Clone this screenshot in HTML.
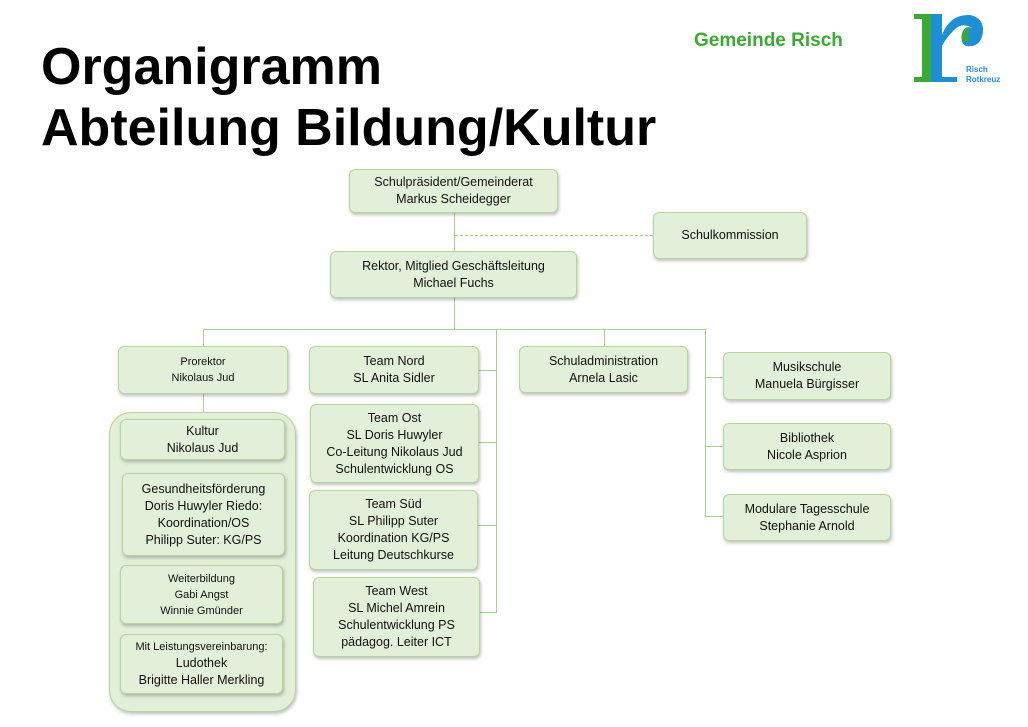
<!DOCTYPE html>
<html><head><meta charset="utf-8"><style>
body{margin:0;width:1028px;height:727px;background:#fff;position:relative;overflow:hidden;font-family:"Liberation Sans",sans-serif}
.t{position:absolute;left:41px;font-weight:bold;font-size:52px;color:#000;line-height:56px}
.b{position:absolute;box-sizing:border-box;background:#e2efd9;border:1px solid #b3d69a;border-radius:6px;box-shadow:1px 2px 3px rgba(0,0,0,.25);display:flex;flex-direction:column;justify-content:center;align-items:center;text-align:center;font-size:12.5px;line-height:17px;color:#111}
.s{font-size:11px;line-height:16px}
.h{position:absolute;height:1px;background:#a9d18e}
.v{position:absolute;width:1px;background:#a9d18e}
</style></head><body>
<div class="t" style="top:39px">Organigramm</div>
<div class="t" style="top:100px">Abteilung Bildung/Kultur</div>
<div style="position:absolute;left:694px;top:30px;font-size:19px;font-weight:bold;color:#3aaa35">Gemeinde Risch</div>
<svg style="position:absolute;left:910px;top:10px" width="110" height="75">
<rect x="4" y="4" width="24" height="5" fill="#3aaa35"/>
<rect x="12" y="4" width="11" height="68" fill="#3aaa35"/>
<rect x="4" y="67" width="20" height="5" fill="#3aaa35"/>
<rect x="21" y="4" width="11" height="68" fill="#1e8fd5"/>
<rect x="21" y="67" width="26" height="5" fill="#1e8fd5"/>
<path d="M32 25 Q40 4 60 5 Q74 8 73 22 Q71 38 56 36 Q50 33 52 24 Q54 15 62 18 Q52 12 44 20 Q36 28 32 36Z" fill="#1e8fd5"/>
<path d="M52 30 Q50 20 60 17 Q56 25 60 32Z" fill="#3aaa35"/>
<text x="56" y="62" font-family="Liberation Sans" font-weight="bold" font-size="8" fill="#1e8fd5">Risch</text>
<text x="56" y="72" font-family="Liberation Sans" font-weight="bold" font-size="8" fill="#1e8fd5">Rotkreuz</text>
</svg>

<div class="v" style="left:454px;top:213px;height:38px"></div>
<div style="position:absolute;left:455px;top:235px;width:198px;border-top:1px dashed #a9d18e"></div>
<div class="v" style="left:454px;top:298px;height:31px"></div>
<div class="h" style="left:203px;top:329px;width:503px"></div>
<div class="v" style="left:203px;top:329px;height:17px"></div>
<div class="v" style="left:604px;top:329px;height:17px"></div>
<div class="v" style="left:496px;top:329px;height:284px"></div>
<div class="h" style="left:479px;top:370px;width:17px"></div>
<div class="h" style="left:479px;top:442px;width:17px"></div>
<div class="h" style="left:478px;top:525px;width:18px"></div>
<div class="h" style="left:480px;top:612px;width:16px"></div>
<div class="v" style="left:705px;top:329px;height:188px"></div>
<div class="h" style="left:705px;top:377px;width:18px"></div>
<div class="h" style="left:705px;top:446px;width:18px"></div>
<div class="h" style="left:705px;top:516px;width:18px"></div>
<div class="v" style="left:203px;top:394px;height:18px"></div>

<div class="b" style="left:349px;top:169px;width:209px;height:44px">Schulpräsident/Gemeinderat<br>Markus Scheidegger</div>
<div class="b" style="left:653px;top:212px;width:154px;height:47px">Schulkommission</div>
<div class="b" style="left:330px;top:251px;width:247px;height:47px">Rektor, Mitglied Geschäftsleitung<br>Michael Fuchs</div>
<div class="b s" style="left:118px;top:346px;width:170px;height:48px">Prorektor<br>Nikolaus Jud</div>
<div class="b" style="left:309px;top:346px;width:170px;height:48px">Team Nord<br>SL Anita Sidler</div>
<div class="b" style="left:519px;top:346px;width:169px;height:47px">Schuladministration<br>Arnela Lasic</div>
<div class="b" style="left:723px;top:352px;width:168px;height:48px">Musikschule<br>Manuela Bürgisser</div>
<div class="b" style="left:723px;top:423px;width:168px;height:47px">Bibliothek<br>Nicole Asprion</div>
<div class="b" style="left:723px;top:494px;width:168px;height:47px">Modulare Tagesschule<br>Stephanie Arnold</div>

<div class="b" style="left:109px;top:412px;width:187px;height:300px;border-radius:22px"></div>
<div class="b" style="left:120px;top:419px;width:165px;height:41px">Kultur<br>Nikolaus Jud</div>
<div class="b" style="left:122px;top:473px;width:163px;height:83px">Gesundheitsförderung<br>Doris Huwyler Riedo:<br>Koordination/OS<br>Philipp Suter: KG/PS</div>
<div class="b s" style="left:120px;top:565px;width:163px;height:59px">Weiterbildung<br>Gabi Angst<br>Winnie Gmünder</div>
<div class="b" style="left:120px;top:634px;width:163px;height:60px"><span class="s">Mit Leistungsvereinbarung:</span>Ludothek<br>Brigitte Haller Merkling</div>

<div class="b" style="left:310px;top:404px;width:169px;height:79px">Team Ost<br>SL Doris Huwyler<br>Co-Leitung Nikolaus Jud<br>Schulentwicklung OS</div>
<div class="b" style="left:309px;top:490px;width:169px;height:80px">Team Süd<br>SL Philipp Suter<br>Koordination KG/PS<br>Leitung Deutschkurse</div>
<div class="b" style="left:313px;top:577px;width:167px;height:80px">Team West<br>SL Michel Amrein<br>Schulentwicklung PS<br>pädagog. Leiter ICT</div>
</body></html>
